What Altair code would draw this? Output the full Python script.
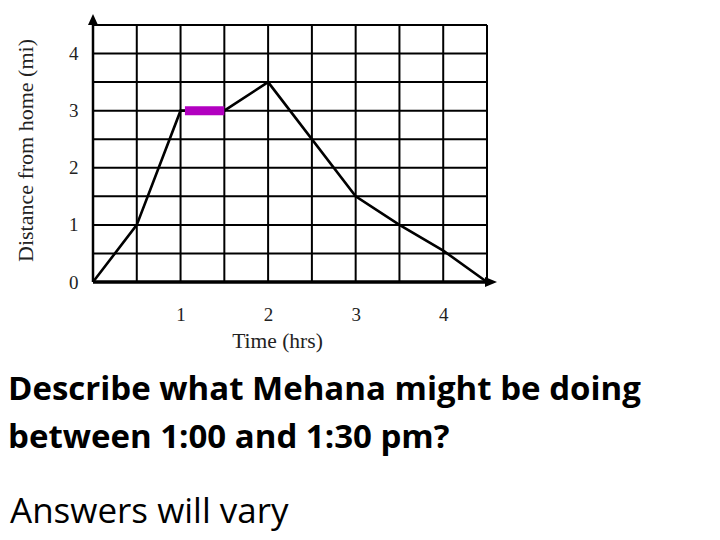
import altair as alt
import pandas as pd

# Trip data (time in hours, distance from home in miles)
time_hrs = [0, 0.5, 1, 1.5, 2, 3, 3.5, 4, 4.5]
distance_mi = [0, 1, 3, 3, 3.5, 1.5, 1.0, 0.55, 0]

# Highlighted flat segment (1:00 - 1:30)
hl_time = [1.05, 1.5]
hl_dist = [3, 3]

# Grid positions
grid_vals = [0, 0.5, 1, 1.5, 2, 2.5, 3, 3.5, 4, 4.5]
x_tick_labels = [1, 2, 3, 4]
y_tick_labels = [0, 1, 2, 3, 4]

# Axis arrow heads
arrow_x = [0, 4.546]
arrow_y = [4.596, 0]

question_lines = ["Describe what Mehana might be doing", "between 1:00 and 1:30 pm?"]
answer_text = "Answers will vary"

W, H = 394, 257
xs = alt.Scale(domain=[0, 4.5], nice=False, zero=False)
ys = alt.Scale(domain=[0, 4.5], nice=False, zero=False)

trip = pd.DataFrame({"t": time_hrs, "d": distance_mi})
hl = pd.DataFrame({"t": hl_time, "d": hl_dist})
grid = pd.DataFrame({"g": grid_vals, "lo": [0] * len(grid_vals), "hi": [4.5] * len(grid_vals)})

x_axis = alt.Axis(values=x_tick_labels, format="d", domain=False, ticks=False, grid=False,
                  labelFont="Liberation Serif", labelFontSize=19, labelColor="#222",
                  labelPadding=23, title="Time (hrs)", titleFont="Liberation Serif",
                  titleFontSize=21.5, titleFontWeight="normal", titleColor="#222",
                  titleX=184, titleY=59, titleBaseline="middle")
y_axis = alt.Axis(values=y_tick_labels, format="d", domain=False, ticks=False, grid=False,
                  labelFont="Liberation Serif", labelFontSize=19, labelColor="#222",
                  labelPadding=15, title="Distance from home (mi)", titleFont="Liberation Serif",
                  titleFontSize=22, titleFontWeight="normal", titleColor="#222",
                  titleAngle=270, titleX=-68, titleY=125, titleBaseline="middle")

vgrid = alt.Chart(grid).mark_rule(color="black", strokeWidth=2).encode(
    x=alt.X("g:Q", scale=xs, axis=x_axis), y=alt.Y("lo:Q", scale=ys, axis=y_axis), y2="hi:Q")
hgrid = alt.Chart(grid).mark_rule(color="black", strokeWidth=2).encode(
    y=alt.Y("g:Q", scale=ys), x=alt.X("lo:Q", scale=xs), x2="hi:Q")

xaxis_line = alt.Chart(grid.head(1)).mark_rule(color="black", strokeWidth=3.5).encode(
    y=alt.Y("lo:Q", scale=ys), x=alt.X("lo:Q", scale=xs), x2="hi:Q")
yaxis_line = alt.Chart(grid.head(1)).mark_rule(color="black", strokeWidth=2.5).encode(
    x=alt.X("lo:Q", scale=xs), y=alt.Y("lo:Q", scale=ys), y2="hi:Q")

line = alt.Chart(trip).mark_line(color="black", strokeWidth=2.6).encode(
    x=alt.X("t:Q", scale=xs), y=alt.Y("d:Q", scale=ys))

highlight = alt.Chart(hl).mark_line(color="#b200c0", strokeWidth=9).encode(
    x=alt.X("t:Q", scale=xs), y=alt.Y("d:Q", scale=ys))

arr_up = alt.Chart(pd.DataFrame({"x": arrow_x[:1], "y": arrow_y[:1]})).mark_point(
    shape="M-1,1.1L0,-1.1L1,1.1Z", size=100, filled=True, color="black", opacity=1).encode(
    x=alt.X("x:Q", scale=xs), y=alt.Y("y:Q", scale=ys))
arr_right = alt.Chart(pd.DataFrame({"x": arrow_x[1:], "y": arrow_y[1:]})).mark_point(
    shape="M-1.2,-1L1.2,0L-1.2,1Z", size=100, filled=True, color="black", opacity=1).encode(
    x=alt.X("x:Q", scale=xs), y=alt.Y("y:Q", scale=ys))

q_df = pd.DataFrame({"txt": question_lines, "row": [0, 1]})
q1 = alt.Chart(q_df.head(1)).mark_text(align="left", baseline="alphabetic", font="Open Sans",
                                       fontWeight="bold", fontSize=33, color="black").encode(
    text="txt:N", x=alt.value(-85), y=alt.value(375))
q2 = alt.Chart(q_df.tail(1)).mark_text(align="left", baseline="alphabetic", font="Open Sans",
                                       fontWeight="bold", fontSize=33, color="black").encode(
    text="txt:N", x=alt.value(-85), y=alt.value(423))
ans = alt.Chart(pd.DataFrame({"txt": [answer_text]})).mark_text(
    align="left", baseline="alphabetic", font="Open Sans", fontSize=35, color="black").encode(
    text="txt:N", x=alt.value(-83), y=alt.value(498))

chart = alt.layer(vgrid, hgrid, xaxis_line, yaxis_line, line, highlight, arr_up, arr_right,
                  q1, q2, ans).properties(
    width=W, height=H,
    autosize=alt.AutoSizeParams(type="none"),
    padding={"left": 85, "top": 17, "right": 220, "bottom": 250},
    background="white",
).configure_view(stroke=None)

chart.save("out.html", embed_options={"renderer": "svg", "actions": False})
